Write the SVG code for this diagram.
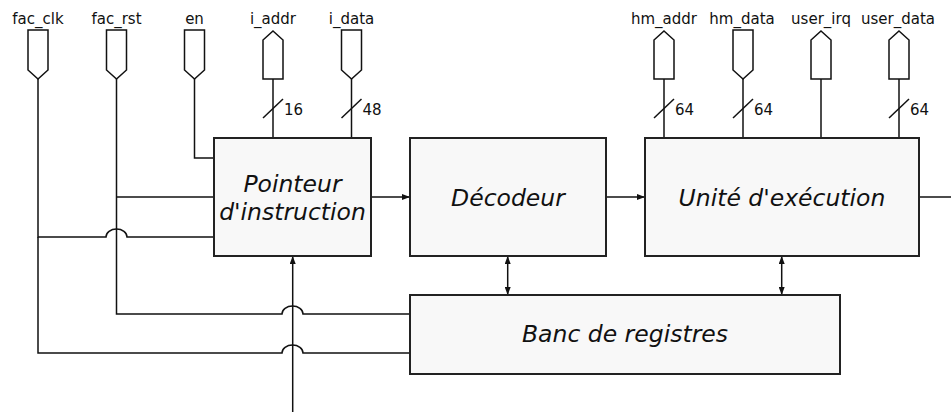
<svg xmlns="http://www.w3.org/2000/svg" width="951" height="412" viewBox="0 0 951 412">
<defs>
<style>
.w{fill:none;stroke:#111;stroke-width:1.5}
.pin{fill:#fff;stroke:#111;stroke-width:1.5}
.box{fill:#f8f8f8;stroke:#222;stroke-width:2}
.lbl{font-family:"DejaVu Sans",sans-serif;font-size:15px;fill:#111;text-anchor:middle}
.bw{font-family:"DejaVu Sans",sans-serif;font-size:15px;fill:#111}
.t{font-family:"DejaVu Sans",sans-serif;font-size:23.5px;font-style:italic;fill:#111;text-anchor:middle}
</style>
<marker id="ah" markerWidth="8" markerHeight="6" refX="8" refY="3" orient="auto" markerUnits="userSpaceOnUse"><path d="M0,0 L8,3 L0,6 Z" fill="#111"/></marker>
<marker id="as" markerWidth="8" markerHeight="6" refX="0" refY="3" orient="auto" markerUnits="userSpaceOnUse"><path d="M8,0 L0,3 L8,6 Z" fill="#111"/></marker>
</defs>
<g id="connectors">
<path class="w" d="M38,79 V237 H106 A10.5,8 0 0 1 127,237 H214"/>
<path class="w" d="M38,237 V353 H282 A10.5,8 0 0 1 303,353 H410"/>
<path class="w" d="M116.5,79 V314 H282 A10.5,8 0 0 1 303,314 H410"/>
<path class="w" d="M116.5,197 H214"/>
<path class="w" d="M194.5,79 V158 H214"/>
<path class="w" d="M273,79 V138"/>
<path class="w" d="M351.5,79 V138"/>
<path class="w" d="M664,79 V138"/>
<path class="w" d="M743,79 V138"/>
<path class="w" d="M821,79 V138"/>
<path class="w" d="M899,79 V138"/>
<path class="w" d="M292.7,412 V256" marker-end="url(#ah)"/>
<path class="w" d="M371,197 H410" marker-end="url(#ah)"/>
<path class="w" d="M606,197 H645" marker-end="url(#ah)"/>
<path class="w" d="M919,197 H951"/>
<path class="w" d="M507.7,256 V295" marker-start="url(#as)" marker-end="url(#ah)"/>
<path class="w" d="M781.7,256 V295" marker-start="url(#as)" marker-end="url(#ah)"/>
<g id="buswidths">
<path class="w" d="M263,118 L283,99"/><text class="bw" x="284" y="115">16</text>
<path class="w" d="M341.5,118 L361.5,99"/><text class="bw" x="362.5" y="115">48</text>
<path class="w" d="M654,118 L674,99"/><text class="bw" x="675" y="115">64</text>
<path class="w" d="M733,118 L753,99"/><text class="bw" x="754" y="115">64</text>
<path class="w" d="M889,118 L909,99"/><text class="bw" x="910" y="115">64</text>
</g>
</g>
<g id="pin_fac_clk"><path class="pin" d="M28,30 H48 V70 L38,79 L28,70 Z"/><text class="lbl" x="38" y="24">fac_clk</text></g>
<g id="pin_fac_rst"><path class="pin" d="M106.5,30 H126.5 V70 L116.5,79 L106.5,70 Z"/><text class="lbl" x="116.5" y="24">fac_rst</text></g>
<g id="pin_en"><path class="pin" d="M184.5,30 H204.5 V70 L194.5,79 L184.5,70 Z"/><text class="lbl" x="194.5" y="24">en</text></g>
<g id="pin_i_addr"><path class="pin" d="M273,31 L283,40 V79 H263 V40 Z"/><text class="lbl" x="273" y="24">i_addr</text></g>
<g id="pin_i_data"><path class="pin" d="M341.5,30 H361.5 V70 L351.5,79 L341.5,70 Z"/><text class="lbl" x="351.5" y="24">i_data</text></g>
<g id="pin_hm_addr"><path class="pin" d="M664,31 L674,40 V79 H654 V40 Z"/><text class="lbl" x="664" y="24">hm_addr</text></g>
<g id="pin_hm_data"><path class="pin" d="M733,30 H753 V70 L743,79 L733,70 Z"/><text class="lbl" x="742" y="24">hm_data</text></g>
<g id="pin_user_irq"><path class="pin" d="M821,31 L831,40 V79 H811 V40 Z"/><text class="lbl" x="821" y="24">user_irq</text></g>
<g id="pin_user_data"><path class="pin" d="M899,31 L909,40 V79 H889 V40 Z"/><text class="lbl" x="898" y="24">user_data</text></g>
<g id="pointeur"><rect class="box" x="214" y="138" width="157" height="118"/><text class="t" x="292.5" y="192">Pointeur</text><text class="t" x="292.5" y="220">d'instruction</text></g>
<g id="decodeur"><rect class="box" x="410" y="138" width="196" height="118"/><text class="t" x="508" y="206">Décodeur</text></g>
<g id="unite"><rect class="box" x="645" y="138" width="274" height="118"/><text class="t" x="782" y="206">Unité d'exécution</text></g>
<g id="banc"><rect class="box" x="410" y="295" width="430" height="79"/><text class="t" x="625" y="342">Banc de registres</text></g>
</svg>
